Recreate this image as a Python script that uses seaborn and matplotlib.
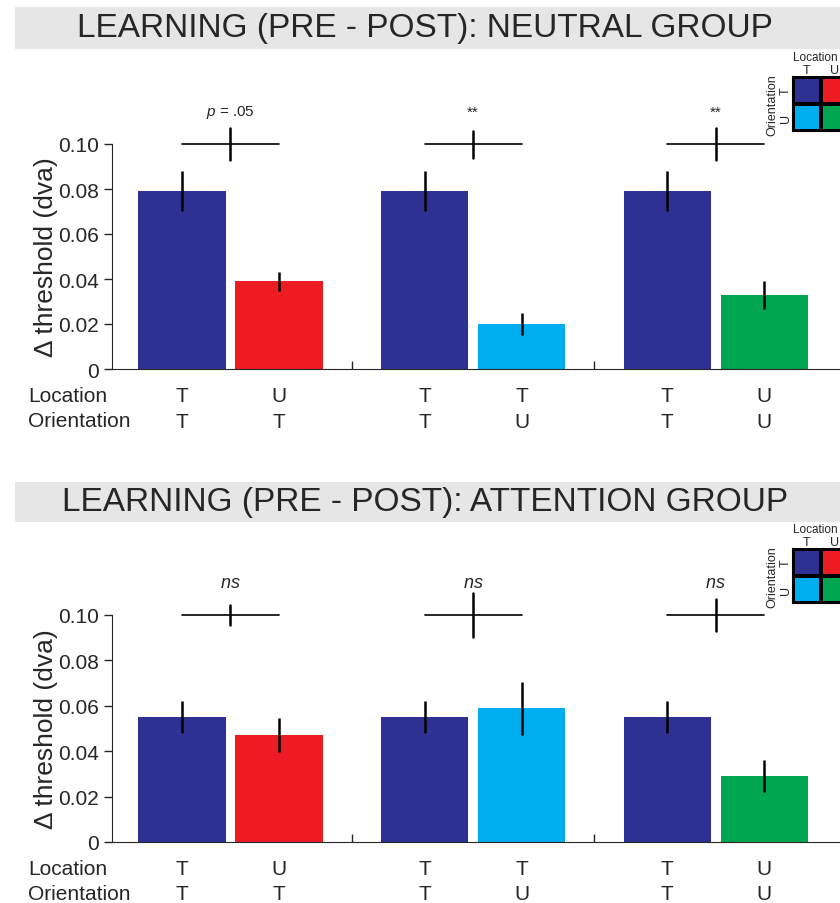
import seaborn as sns
import numpy as np
import pandas as pd
import matplotlib.pyplot as plt
from matplotlib.colors import ListedColormap
from matplotlib.patches import Rectangle

# bar data
locations = ['T', 'U', 'T', 'T', 'T', 'U']
orientations = ['T', 'T', 'T', 'U', 'T', 'U']
conds = ['TT', 'UT', 'TT', 'TU', 'TT', 'UU']
x_pos = [0, 1, 2.5, 3.5, 5, 6]

neutral_mean = [0.079, 0.039, 0.079, 0.020, 0.079, 0.033]
neutral_err = [0.0089, 0.0042, 0.0089, 0.0049, 0.0089, 0.0062]
attention_mean = [0.055, 0.047, 0.055, 0.059, 0.055, 0.029]
attention_err = [0.0072, 0.0075, 0.0072, 0.0117, 0.0072, 0.0070]

# difference (pre-post) comparisons per group
neutral_sig = ['$p$ = .05', '**', '**']
neutral_diff_err = [0.0071, 0.0060, 0.0071]
attention_sig = ['$ns$', '$ns$', '$ns$']
attention_diff_err = [0.0042, 0.0097, 0.0070]

titles = ['LEARNING (PRE - POST): NEUTRAL GROUP',
          'LEARNING (PRE - POST): ATTENTION GROUP']

pal = {'TT': '#2e3192', 'UT': '#ed1c24', 'TU': '#00aeef', 'UU': '#00a651'}

sns.set_style('ticks')
plt.rcParams['font.family'] = ['Liberation Sans', 'DejaVu Sans']
plt.rcParams['mathtext.fontset'] = 'custom'
plt.rcParams['mathtext.it'] = 'Liberation Sans:italic'
plt.rcParams['mathtext.rm'] = 'Liberation Sans'

W, H = 840, 904
fig = plt.figure(figsize=(W / 100, H / 100), dpi=100)


def fx(px):
    return px / W


def fy(py):
    return 1 - py / H


def panel(y0_px, ytop_px, band_px, title, means, errs, sig, diff_err, sig_size, leg_px):
    # gray title band
    fig.patches.append(Rectangle((fx(15), fy(band_px[1])), fx(840 - 15),
                                 (band_px[1] - band_px[0]) / H, transform=fig.transFigure,
                                 facecolor='#e6e6e6', edgecolor='none', zorder=0))
    fig.text(fx(425), fy((band_px[0] + band_px[1]) / 2), title, ha='center', va='center',
             fontsize=24)

    ax = fig.add_axes([fx(112), fy(y0_px), 1 - fx(112), (y0_px - ytop_px) / H])
    df = pd.DataFrame({'pos': x_pos, 'mean': means, 'cond': conds})
    sns.barplot(data=df, x='pos', y='mean', hue='cond', palette=pal, native_scale=True,
                dodge=False, width=0.9, errorbar=None, legend=False, saturation=1,
                linewidth=0, ax=ax)
    ax.errorbar(x_pos, means, yerr=errs, fmt='none', ecolor='black', elinewidth=1.8,
                capsize=0, zorder=5)

    # comparison lines above each group
    for g in range(3):
        xa, xb = x_pos[2 * g], x_pos[2 * g + 1]
        xm = (xa + xb) / 2
        ax.plot([xa, xb], [0.10, 0.10], color='black', lw=1.2, clip_on=False)
        ax.plot([xm, xm], [0.10 - diff_err[g], 0.10 + diff_err[g]], color='black',
                lw=1.8, clip_on=False)
        ax.text(xm, 1.145, sig[g], transform=ax.get_xaxis_transform(), ha='center',
                va='center', fontsize=sig_size)

    ax.set_xlim(-0.72, 6.78)
    ax.set_ylim(0, 0.10)
    ax.set_yticks([0, 0.02, 0.04, 0.06, 0.08, 0.10])
    ax.set_yticklabels(['0', '0.02', '0.04', '0.06', '0.08', '0.10'], fontsize=15)
    ax.tick_params(axis='y', direction='out', length=6, width=1)
    ax.set_xticks(x_pos)
    ax.set_xticklabels([])
    ax.tick_params(axis='x', which='major', length=0)
    ax.set_xticks([1.75, 4.25], minor=True)
    ax.tick_params(axis='x', which='minor', direction='in', length=6, width=1)
    ax.set_xlabel('')
    ax.set_ylabel('\u0394 threshold (dva)', fontsize=19, labelpad=0)
    sns.despine(ax=ax, right=True, top=True)

    # location / orientation rows
    tr = ax.get_xaxis_transform()
    for x, loc, ori in zip(x_pos, locations, orientations):
        ax.text(x, -27 / (y0_px - ytop_px), loc, transform=tr, ha='center', va='center',
                fontsize=15)
        ax.text(x, -52 / (y0_px - ytop_px), ori, transform=tr, ha='center', va='center',
                fontsize=15)
    fig.text(fx(28), fy(y0_px + 27), 'Location', ha='left', va='center', fontsize=15)
    fig.text(fx(28), fy(y0_px + 52), 'Orientation', ha='left', va='center', fontsize=15)

    # colour key
    axk = fig.add_axes([fx(793), fy(leg_px + 54), fx(56), 54 / H])
    sns.heatmap(np.array([[0, 1], [2, 3]]),
                cmap=ListedColormap([pal['TT'], pal['UT'], pal['TU'], pal['UU']]),
                cbar=False, linewidths=1.5, linecolor='black', ax=axk,
                xticklabels=['T', 'U'], yticklabels=['T', 'U'])
    for s in axk.spines.values():
        s.set_visible(True)
        s.set_linewidth(1.5)
        s.set_color('black')
    axk.xaxis.tick_top()
    axk.set_xlabel('')
    axk.set_ylabel('Orientation', fontsize=9, labelpad=1)
    axk.tick_params(length=0, labelsize=9, pad=1)
    plt.setp(axk.get_yticklabels(), rotation=90, va='center')
    fig.text(fx(838), fy(leg_px - 20), 'Location', ha='right', va='center', fontsize=8.5)
    return ax


panel(370, 145, (8, 50), titles[0], neutral_mean, neutral_err, neutral_sig,
      neutral_diff_err, 11, 78)
panel(843, 616, (483, 523), titles[1], attention_mean, attention_err, attention_sig,
      attention_diff_err, 13, 550)

fig.savefig('out.png', dpi=100)
